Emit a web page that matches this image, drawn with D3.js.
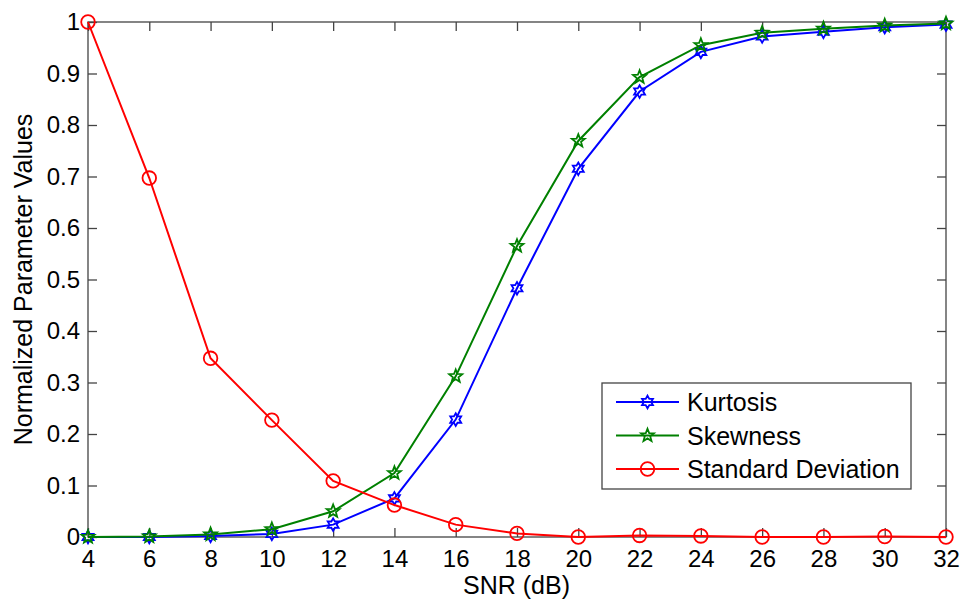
<!DOCTYPE html>
<html>
<head>
<meta charset="utf-8">
<script src="https://cdn.jsdelivr.net/npm/d3@7"></script>
<style>
body { margin: 0; background: #fff; }
text { font-family: "Liberation Sans", Arial, sans-serif; fill: #000; }
</style>
</head>
<body>
<svg id="svg" width="962" height="599"></svg>
<script>
var snr = [4, 6, 8, 10, 12, 14, 16, 18, 20, 22, 24, 26, 28, 30, 32];
var kurtosis = [0, 0, 0.002, 0.006, 0.024, 0.075, 0.228, 0.483, 0.715, 0.865, 0.942, 0.972, 0.981, 0.990, 0.995];
var skewness = [0, 0.001, 0.005, 0.015, 0.050, 0.124, 0.312, 0.565, 0.769, 0.893, 0.955, 0.979, 0.987, 0.993, 0.997];
var stdDev = [1.0, 0.697, 0.347, 0.227, 0.109, 0.062, 0.024, 0.007, 0, 0.003, 0.002, 0, 0, 0.001, 0];
var xTicks = d3.range(4, 33, 2);
var yTicks = [0, 0.1, 0.2, 0.3, 0.4, 0.5, 0.6, 0.7, 0.8, 0.9, 1];

var series = [
    {name: "Kurtosis", values: kurtosis, color: "#0000ff", marker: "hexagram"},
    {name: "Skewness", values: skewness, color: "#008000", marker: "pentagram"},
    {name: "Standard Deviation", values: stdDev, color: "#ff0000", marker: "circle"}
];

var svg = d3.select("#svg");
var mLeft = 88, mRight = 946, mTop = 22, mBottom = 537;

var x = d3.scaleLinear().domain([4, 32]).range([mLeft, mRight]);
var y = d3.scaleLinear().domain([0, 1]).range([mBottom, mTop]);

var axisColor = "#444";
var tickLen = 9;

// box
svg.append("rect")
    .attr("x", mLeft).attr("y", mTop)
    .attr("width", mRight - mLeft).attr("height", mBottom - mTop)
    .attr("fill", "none").attr("stroke", axisColor).attr("stroke-width", 1.3);

// axes, ticks point inward
var gx = svg.append("g").attr("transform", "translate(0," + mBottom + ")")
    .call(d3.axisBottom(x).tickValues(xTicks).tickSize(-tickLen).tickPadding(13).tickFormat(d3.format("d")));
var gxt = svg.append("g").attr("transform", "translate(0," + mTop + ")")
    .call(d3.axisTop(x).tickValues(xTicks).tickSize(-tickLen).tickFormat(""));
var gy = svg.append("g").attr("transform", "translate(" + mLeft + ",0)")
    .call(d3.axisLeft(y).tickValues(yTicks).tickSize(-tickLen).tickPadding(8)
        .tickFormat(d => d === 0 || d === 1 ? d3.format("d")(d) : d3.format(".1f")(d)));
var gyr = svg.append("g").attr("transform", "translate(" + mRight + ",0)")
    .call(d3.axisRight(y).tickValues(yTicks).tickSize(-tickLen).tickFormat(""));

[gx, gxt, gy, gyr].forEach(g => {
    g.select(".domain").remove();
    g.selectAll(".tick line").attr("stroke", axisColor).attr("stroke-width", 1.3);
    g.selectAll(".tick text").style("font-size", "24px").attr("fill", "#000");
});

// axis titles
svg.append("text")
    .attr("x", (mLeft + mRight) / 2 - 0.5).attr("y", 594)
    .attr("text-anchor", "middle").style("font-size", "25px")
    .text("SNR (dB)");
svg.append("text")
    .attr("transform", "translate(32," + (mTop + mBottom) / 2 + ") rotate(-90)")
    .attr("text-anchor", "middle").style("font-size", "25px")
    .text("Normalized Parameter Values");

function starPath(points, outer, inner) {
    var pts = [];
    for (var i = 0; i < points * 2; i++) {
        var r = i % 2 === 0 ? outer : inner;
        var a = -Math.PI / 2 + i * Math.PI / points;
        pts.push([r * Math.cos(a), r * Math.sin(a)]);
    }
    return "M" + pts.map(p => p[0].toFixed(2) + "," + p[1].toFixed(2)).join("L") + "Z";
}

function drawMarker(g, type, color) {
    if (type === "circle") {
        g.append("circle").attr("r", 6.8).attr("fill", "none").attr("stroke", color).attr("stroke-width", 1.8);
    } else if (type === "pentagram") {
        g.append("path").attr("d", starPath(5, 6.8, 2.9)).attr("fill", "none").attr("stroke", color).attr("stroke-width", 1.8);
    } else {
        g.append("path").attr("d", starPath(6, 6.3, 3.6)).attr("fill", "none").attr("stroke", color).attr("stroke-width", 1.8);
    }
}

var line = d3.line().x(d => x(d[0])).y(d => y(d[1]));

series.forEach(s => {
    var pts = snr.map((v, i) => [v, s.values[i]]);
    svg.append("path")
        .datum(pts)
        .attr("d", line)
        .attr("fill", "none")
        .attr("stroke", s.color)
        .attr("stroke-width", 2);
    pts.forEach(p => {
        var g = svg.append("g").attr("transform", "translate(" + x(p[0]) + "," + y(p[1]) + ")");
        drawMarker(g, s.marker, s.color);
    });
});

// legend
var legend = svg.append("g").attr("transform", "translate(602,383)");
legend.append("rect")
    .attr("width", 309).attr("height", 106)
    .attr("fill", "#fff").attr("stroke", axisColor).attr("stroke-width", 1.3);
series.forEach((s, i) => {
    var yy = 19 + i * 33.5;
    legend.append("line")
        .attr("x1", 14).attr("x2", 77).attr("y1", yy).attr("y2", yy)
        .attr("stroke", s.color).attr("stroke-width", 2);
    var g = legend.append("g").attr("transform", "translate(45.5," + yy + ")");
    drawMarker(g, s.marker, s.color);
    legend.append("text")
        .attr("x", 85).attr("y", yy + 9)
        .style("font-size", "25px")
        .text(s.name);
});
</script>
</body>
</html>
